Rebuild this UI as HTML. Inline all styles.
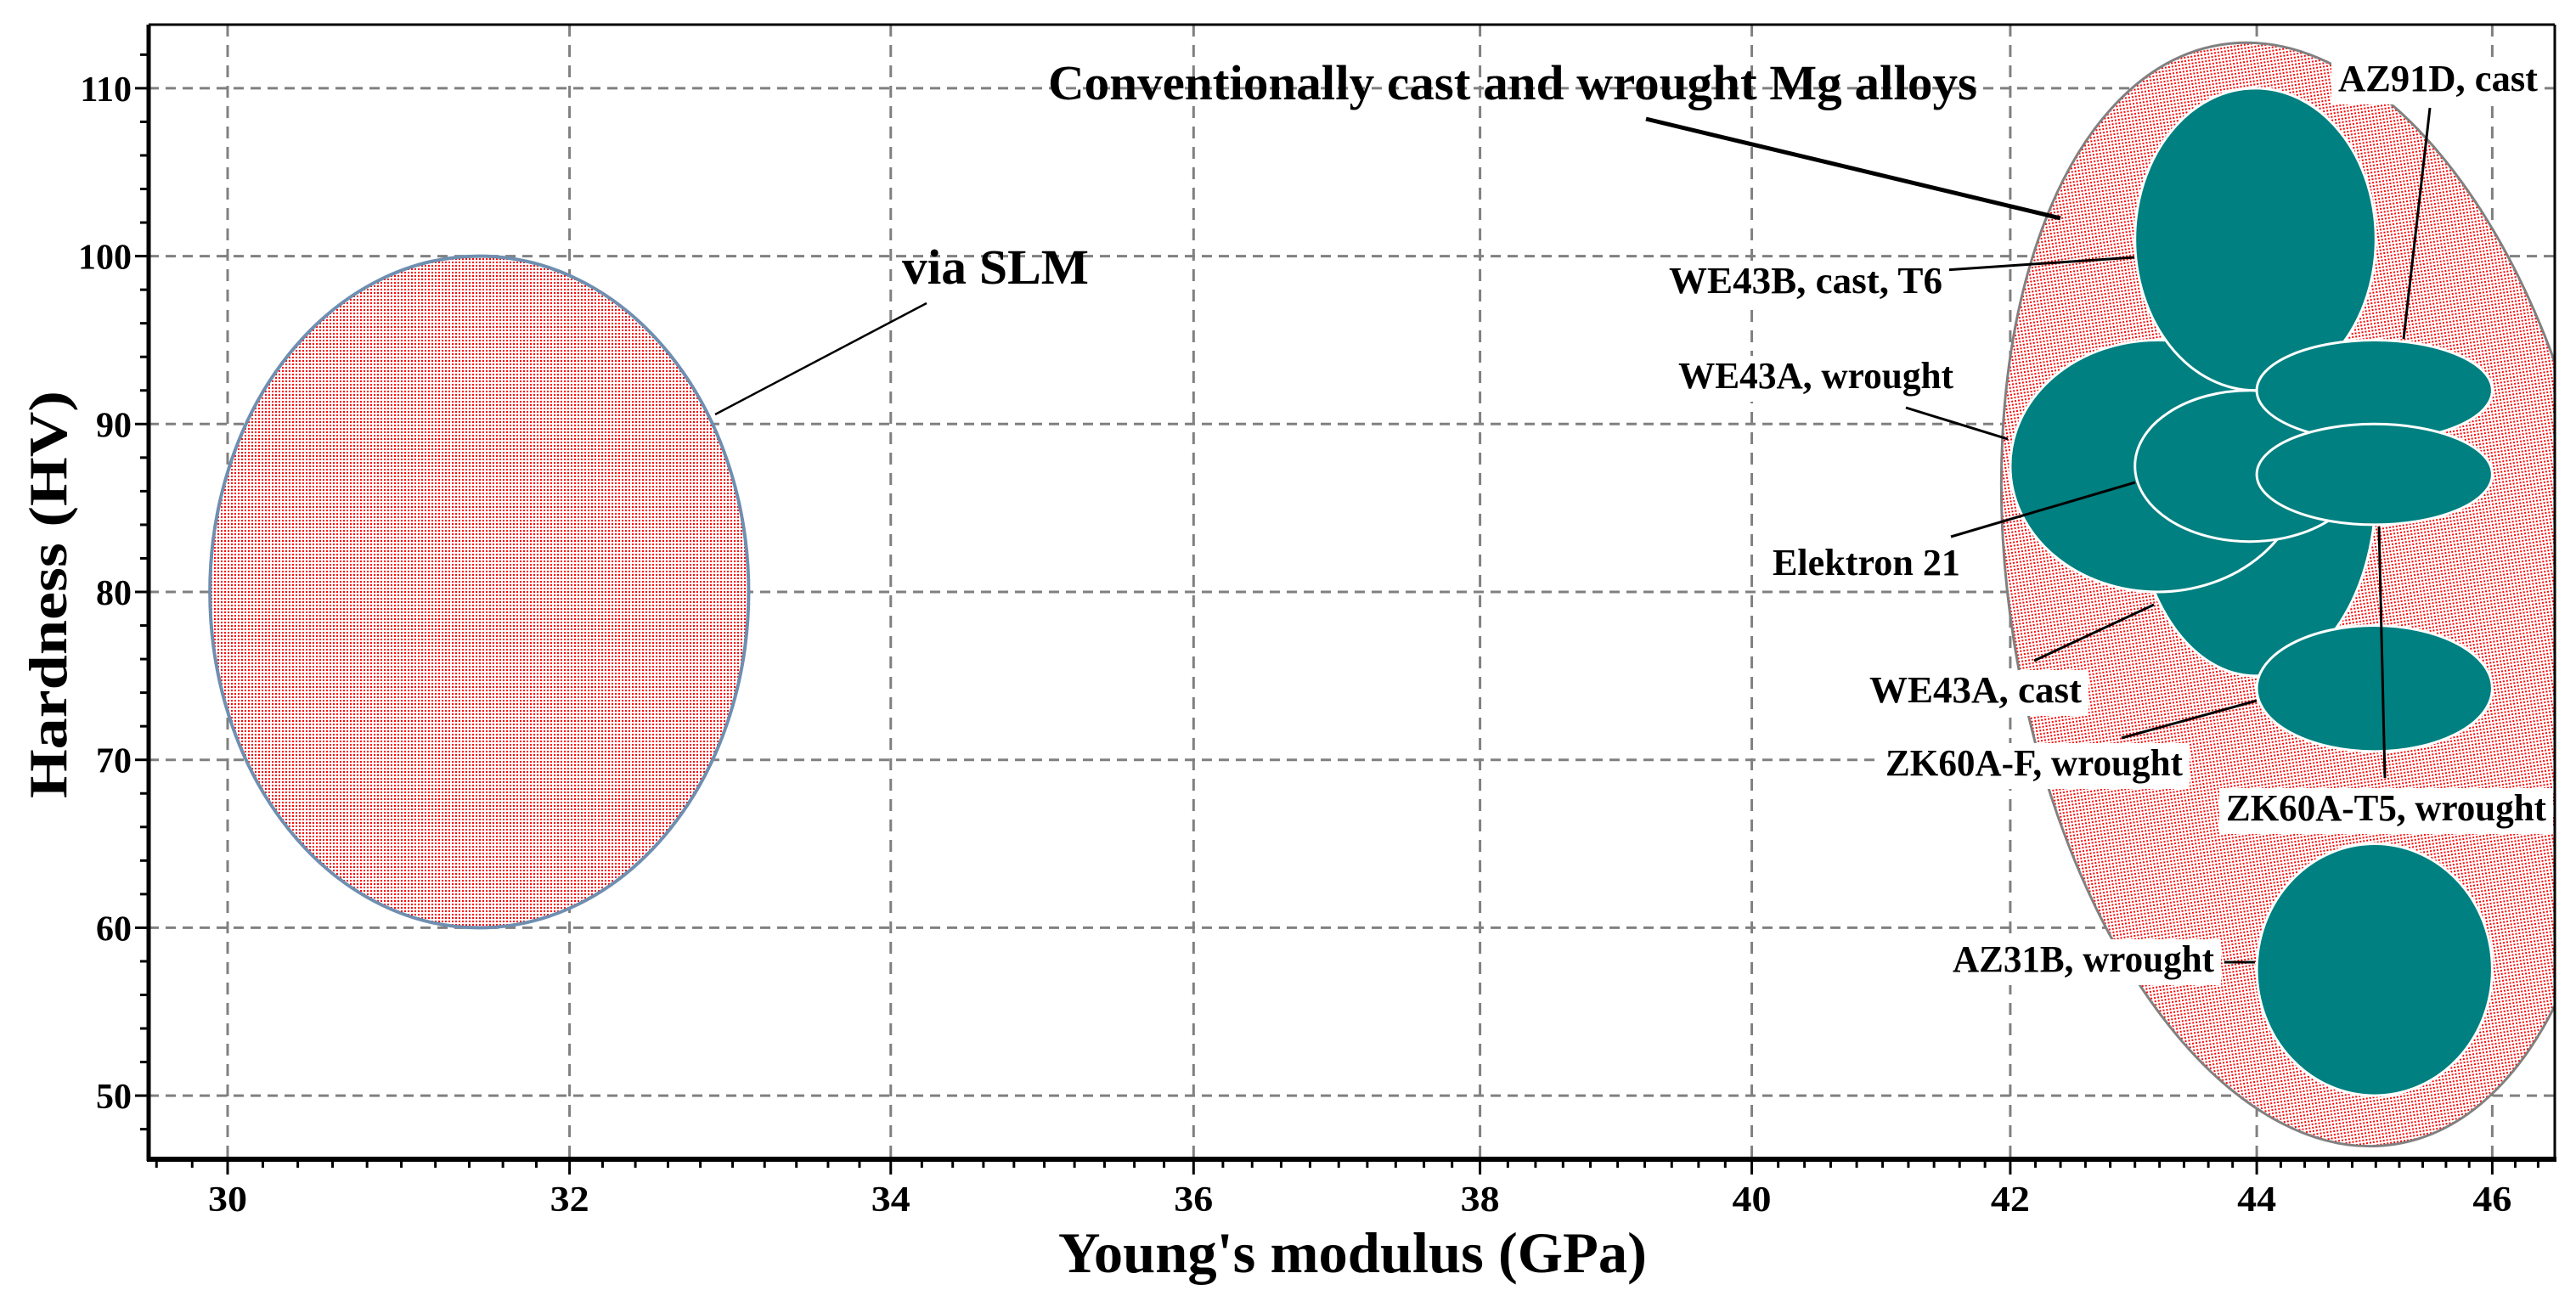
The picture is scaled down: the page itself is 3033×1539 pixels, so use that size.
<!DOCTYPE html>
<html><head><meta charset="utf-8"><style>
html,body{margin:0;padding:0;background:#fff;}
svg{display:block;}
text{font-family:"Liberation Serif",serif;font-weight:bold;fill:#000;}
</style></head><body>
<svg id="chart" width="3033" height="1539" viewBox="0 0 3033 1539" xmlns="http://www.w3.org/2000/svg">
<defs>
<pattern id="redDots" width="4" height="4" patternUnits="userSpaceOnUse">
<rect width="4" height="4" fill="#fff"/><rect width="2" height="2" fill="#ff0000"/>
</pattern>
<clipPath id="plotClip"><rect x="175" y="29" width="2833" height="1336"/></clipPath>
</defs>
<rect width="3033" height="1539" fill="#fff"/>
<g id="grid"></g>
<g id="marks" clip-path="url(#plotClip)"></g>
<g id="labels">
<line x1="1938" y1="140" x2="2426" y2="257" stroke="#000" stroke-width="5"/>
<text x="1234" y="117" font-size="58" textLength="1094" lengthAdjust="spacingAndGlyphs">Conventionally cast and wrought Mg alloys</text>
<line x1="1091" y1="357" x2="842" y2="488" stroke="#000" stroke-width="2.5"/>
<text x="1062" y="334" font-size="58" textLength="220" lengthAdjust="spacingAndGlyphs">via SLM</text>
</g>
<g id="axes"></g>
</svg>
<script>
const xTicks = [30, 32, 34, 36, 38, 40, 42, 44, 46];
const yTicks = [50, 60, 70, 80, 90, 100, 110];
const xLabels = ["30", "32", "34", "36", "38", "40", "42", "44", "46"];
const yLabels = ["50", "60", "70", "80", "90", "100", "110"];
const alloyNames = ["WE43A, cast", "WE43A, wrought", "WE43B, cast, T6", "Elektron 21", "AZ91D, cast", "ZK60A-T5, wrought", "ZK60A-F, wrought", "AZ31B, wrought"];
const alloyEMin = [43.0, 42.0, 43.0, 43.0, 44.0, 44.0, 44.0, 44.0];
const alloyEMax = [45.0, 44.4, 45.0, 44.9, 46.0, 46.0, 46.0, 46.0];
const alloyHMin = [75, 80, 92, 83, 89, 84, 70.5, 50];
const alloyHMax = [97, 95, 110, 92, 95, 90, 78, 65];
const slmRange = [29.9, 33.1, 60, 100];
const envelopeRange = [42.0, 47.0, 46.7, 113];

const NS = "http://www.w3.org/2000/svg";
const PL = 175, PR = 3008, PT = 29, PB = 1365;
function X(v){ return 268 + 6238 * Math.log(v / 30); }
function Y(v){ return 697 - (v - 80) * 19.77; }
function mk(tag, attrs, parent){ const e = document.createElementNS(NS, tag); for (const k in attrs) e.setAttribute(k, attrs[k]); parent.appendChild(e); return e; }

const grid = document.getElementById('grid');
const marks = document.getElementById('marks');
const axes = document.getElementById('axes');
const labels = document.getElementById('labels');

xTicks.forEach(v => {
  const l = mk('line', {x1: X(v), x2: X(v), y1: PT, y2: PB, stroke: '#808080', 'stroke-width': 3, 'stroke-dasharray': '14 10'}, grid);
  
  
});
yTicks.forEach(v => {
  const l = mk('line', {x1: PL, x2: PR, y1: Y(v), y2: Y(v), stroke: '#808080', 'stroke-width': 3, 'stroke-dasharray': '12 8'}, grid);
  
  
});

(function(){
  const x0 = X(envelopeRange[0]), x1 = X(envelopeRange[1]);
  const y0 = Y(envelopeRange[3]), y1 = Y(envelopeRange[2]);
  const cx = (x0 + x1) / 2, cy = (y0 + y1) / 2;
  const e = mk('ellipse', {cx: cx, cy: cy, rx: (x1 - x0) / 2, ry: (y1 - y0) / 2, fill: 'url(#redDots)', stroke: '#808080', 'stroke-width': 3, transform: 'rotate(-9 ' + cx + ' ' + cy + ')'}, marks);
  
  
})();

(function(){
  const x0 = X(slmRange[0]), x1 = X(slmRange[1]);
  const y0 = Y(slmRange[3]), y1 = Y(slmRange[2]);
  const e = mk('ellipse', {cx: (x0 + x1) / 2, cy: (y0 + y1) / 2, rx: (x1 - x0) / 2, ry: (y1 - y0) / 2, fill: 'url(#redDots)', stroke: '#6f8fb0', 'stroke-width': 4}, marks);
  
  
})();

alloyNames.forEach((n, i) => {
  const x0 = X(alloyEMin[i]), x1 = X(alloyEMax[i]);
  const y0 = Y(alloyHMax[i]), y1 = Y(alloyHMin[i]);
  const e = mk('ellipse', {cx: (x0 + x1) / 2, cy: (y0 + y1) / 2, rx: (x1 - x0) / 2, ry: (y1 - y0) / 2, fill: '#008080', stroke: '#ffffff', 'stroke-width': 3}, marks);
  
  
});

const ann = [
  ["WE43B, cast, T6", 1965, 345, 322, [[2290,318],[2513,303]]],
  ["WE43A, wrought", 1976, 457, 324, [[2244,480],[2364,517]]],
  ["Elektron 21", 2087, 677, 221, [[2297,632],[2514,568]]],
  ["WE43A, cast", 2201, 827, 250, [[2395,778],[2536,712]]],
  ["ZK60A-F, wrought", 2220, 913, 350, [[2498,869],[2657,825]]],
  ["ZK60A-T5, wrought", 2621, 966, 377, [[2801,620],[2808,916]]],
  ["AZ31B, wrought", 2299, 1144, 308, [[2619,1133],[2655,1133]]],
  ["AZ91D, cast", 2753, 107, 235, [[2861,127],[2830,399]]]
];
ann.forEach(a => {
  const ln = mk('line', {x1: a[4][0][0], y1: a[4][0][1], x2: a[4][1][0], y2: a[4][1][1], stroke: '#000', 'stroke-width': 3}, labels);
  
  
  const r = mk('rect', {x: a[1] - 8, y: a[2] - 38, width: a[3] + 16, height: 54, fill: '#fff'}, labels);
  
  
  const t = mk('text', {x: a[1], y: a[2], 'font-size': 44, textLength: a[3], lengthAdjust: 'spacingAndGlyphs'}, labels);
  t.textContent = a[0];
  
  
});

mk('line', {x1: PL, x2: PR, y1: PT, y2: PT, stroke: '#000', 'stroke-width': 3}, axes);
mk('line', {x1: PR, x2: PR, y1: PT, y2: PB, stroke: '#000', 'stroke-width': 3}, axes);
mk('line', {x1: PL, x2: PL, y1: PT, y2: PB + 2, stroke: '#000', 'stroke-width': 5}, axes);
mk('line', {x1: PL - 2, x2: PR + 2, y1: PB, y2: PB, stroke: '#000', 'stroke-width': 6}, axes);

for (let k = 0; ; k++) {
  const v = 29.6 + k * 0.2;
  if (v > 46.6) break;
  const px = X(v);
  if (px < PL || px > PR) continue;
  const major = Math.abs(v - Math.round(v)) < 0.01 && Math.round(v) % 2 === 0;
  mk('line', {x1: px, x2: px, y1: PB, y2: PB + (major ? 18 : 10), stroke: '#000', 'stroke-width': 3}, axes);
}
for (let k = 0; ; k++) {
  const v = 46 + k * 2;
  if (v > 114) break;
  const py = Y(v);
  if (py < PT || py > PB) continue;
  const major = v % 10 === 0;
  mk('line', {x1: PL - (major ? 16 : 10), x2: PL, y1: py, y2: py, stroke: '#000', 'stroke-width': 3}, axes);
}
xTicks.forEach((v, i) => {
  const t = mk('text', {x: X(v), y: 1426, 'font-size': 42, 'text-anchor': 'middle', textLength: 46, lengthAdjust: 'spacingAndGlyphs'}, axes);
  t.textContent = xLabels[i];
  
  
});
yTicks.forEach((v, i) => {
  const t = mk('text', {x: 155, y: Y(v) + 15, 'font-size': 42, 'text-anchor': 'end'}, axes);
  t.textContent = yLabels[i];
  
  
});
const xt = mk('text', {x: 1246, y: 1498, 'font-size': 68, textLength: 693, lengthAdjust: 'spacingAndGlyphs'}, axes);
xt.textContent = "Young's modulus (GPa)";


const yt = mk('text', {x: 0, y: 0, 'font-size': 64, 'text-anchor': 'middle', textLength: 480, lengthAdjust: 'spacingAndGlyphs', transform: 'translate(78 700) rotate(-90)'}, axes);
yt.textContent = "Hardness (HV)";


</script>
</body></html>
